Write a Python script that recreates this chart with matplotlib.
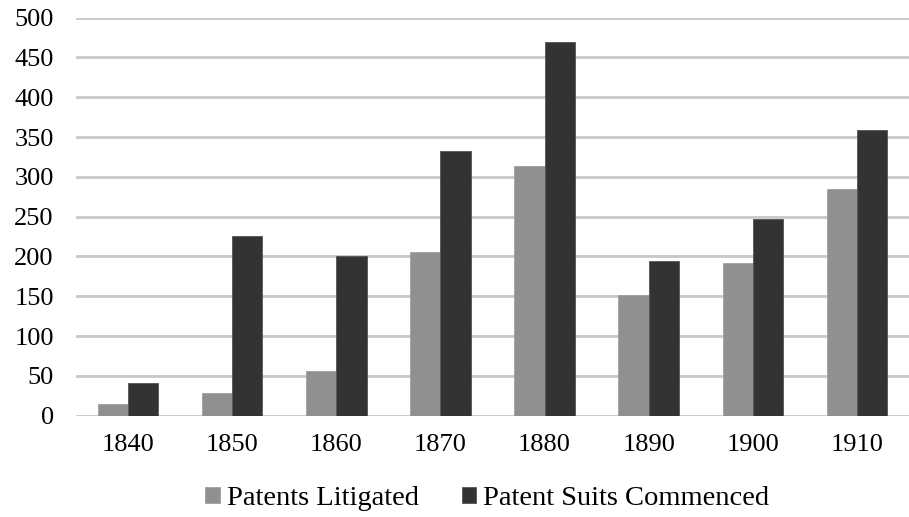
import matplotlib.pyplot as plt
import numpy as np

years = ['1840', '1850', '1860', '1870', '1880', '1890', '1900', '1910']
litigated = [15, 28, 56, 205, 313, 152, 192, 285]
suits = [41, 226, 200, 333, 469, 194, 247, 359]
yticks = list(range(0, 501, 50))

plt.rcParams['font.family'] = ['Liberation Serif', 'DejaVu Serif']

fig = plt.figure(figsize=(9.09, 5.17), dpi=100)
ax = fig.add_axes([0.0836, 0.196, 0.9164, 0.770])

x = np.arange(len(years))
w = 0.29
ax.bar(x - w / 2, litigated, w, color='#909090', edgecolor='#a0a0a0', linewidth=0.6,
       label='Patents Litigated', zorder=3)
ax.bar(x + w / 2, suits, w, color='#333333', edgecolor='#555555', linewidth=0.6,
       label='Patent Suits Commenced', zorder=3)

ax.set_xlim(-0.5, len(years) - 0.5)
ax.set_ylim(0, 500)
ax.set_yticks(yticks)
ax.set_yticklabels([str(v) for v in yticks], fontsize=19)
ax.set_xticks(x)
ax.set_xticklabels(years, fontsize=19)
ax.tick_params(axis='y', length=0, pad=16)
ax.tick_params(axis='x', length=0, pad=13)
ax.grid(axis='y', color='#c8c8c8', linewidth=2, zorder=0)
for s in ax.spines.values():
    s.set_visible(False)

# legend centred under the plot, around x=487px
ax.legend(loc='center', bbox_to_anchor=(0.536, 0.035), bbox_transform=fig.transFigure,
          ncol=2, frameon=False, fontsize=20.5, handlelength=0.5, handleheight=0.5,
          handletextpad=0.25, columnspacing=1.5)

fig.savefig('out.png', dpi=100)
